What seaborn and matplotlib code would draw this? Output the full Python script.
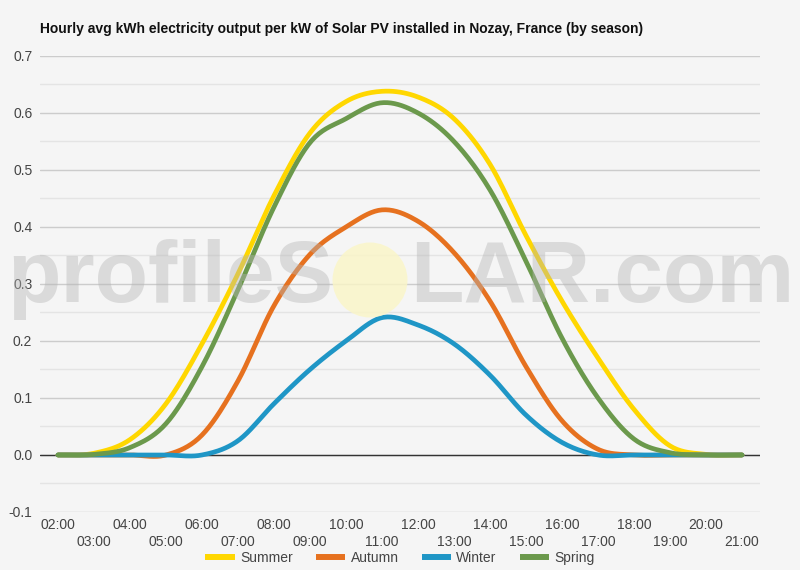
import numpy as np
import pandas as pd
import matplotlib
matplotlib.use("Agg")
import matplotlib.pyplot as plt
from matplotlib.patches import Ellipse
from matplotlib.ticker import MultipleLocator
import seaborn as sns

# hourly average kWh per kW installed
hours = ['02:00', '03:00', '04:00', '05:00', '06:00', '07:00', '08:00', '09:00', '10:00', '11:00',
         '12:00', '13:00', '14:00', '15:00', '16:00', '17:00', '18:00', '19:00', '20:00', '21:00']
summer = [0, 0.003, 0.027, 0.09, 0.195, 0.318, 0.455, 0.565, 0.62, 0.638,
          0.628, 0.59, 0.51, 0.385, 0.27, 0.17, 0.08, 0.016, 0.001, 0]
autumn = [0, 0, 0, 0, 0.035, 0.13, 0.262, 0.352, 0.40, 0.43,
          0.41, 0.355, 0.27, 0.155, 0.06, 0.01, 0, 0, 0, 0]
winter = [0, 0, 0, 0, 0, 0.025, 0.09, 0.15, 0.20, 0.241,
          0.228, 0.195, 0.14, 0.07, 0.022, 0, 0, 0, 0, 0]
spring = [0, 0.001, 0.013, 0.055, 0.155, 0.29, 0.435, 0.548, 0.59, 0.618,
          0.60, 0.55, 0.465, 0.34, 0.205, 0.10, 0.028, 0.004, 0, 0]

seasons = ['Summer', 'Autumn', 'Winter', 'Spring']
colors = ['#FFD700', '#E6711F', '#1F96C6', '#6B994C']


def smooth(vals, n=20):
    # catmull-rom spline through the hourly points (chart uses curved lines)
    p = np.array(vals, dtype=float)
    p = np.concatenate([[p[0]], p, [p[-1]]])
    xs, ys = [], []
    t = np.linspace(0, 1, n, endpoint=False)
    for i in range(1, len(p) - 2):
        p0, p1, p2, p3 = p[i - 1], p[i], p[i + 1], p[i + 2]
        m1 = (p2 - p0) / 2
        m2 = (p3 - p1) / 2
        h00 = 2 * t**3 - 3 * t**2 + 1
        h10 = t**3 - 2 * t**2 + t
        h01 = -2 * t**3 + 3 * t**2
        h11 = t**3 - t**2
        xs.extend(i - 1 + t)
        ys.extend(h00 * p1 + h10 * m1 + h01 * p2 + h11 * m2)
    xs.append(len(vals) - 1)
    ys.append(vals[-1])
    return np.array(xs), np.array(ys)


frames = []
for name, vals in zip(seasons, [summer, autumn, winter, spring]):
    x, y = smooth(vals)
    frames.append(pd.DataFrame({'x': x, 'kwh': y, 'season': name}))
df = pd.concat(frames, ignore_index=True)

sns.set_theme(style="white")
plt.rcParams['font.family'] = ['Liberation Sans', 'DejaVu Sans']

bg = '#f5f5f5'
fig = plt.figure(figsize=(8, 5.7), dpi=100, facecolor=bg)
ax = fig.add_axes([0.05, 0.1018, 0.90, 0.80])
ax.set_facecolor(bg)

sns.lineplot(data=df, x='x', y='kwh', hue='season', palette=dict(zip(seasons, colors)),
             estimator=None, sort=False, linewidth=3.4, ax=ax, zorder=3)

ax.set_xlim(-0.5, len(hours) - 0.5)
ax.set_ylim(-0.1, 0.7)
ax.yaxis.set_major_locator(MultipleLocator(0.1))
ax.yaxis.set_minor_locator(MultipleLocator(0.05))
ax.set_yticks(np.arange(-0.1, 0.71, 0.1))
ax.set_yticklabels([f'{v:.1f}' for v in np.arange(-0.1, 0.71, 0.1)])
ax.grid(which='major', axis='y', color='#cccccc', linewidth=1)
ax.grid(which='minor', axis='y', color='#e4e4e4', linewidth=1)
ax.axhline(0, color='#333333', linewidth=1, zorder=2)

ax.set_xticks(range(len(hours)))
ax.set_xticklabels([h if i % 2 == 0 else '\n' + h for i, h in enumerate(hours)],
                   linespacing=1.35)
ax.tick_params(axis='both', length=0, labelsize=10, colors='#444444')
ax.tick_params(axis='x', pad=4)
ax.tick_params(axis='y', pad=5.5)
for s in ax.spines.values():
    s.set_visible(False)
ax.set_xlabel('')
ax.set_ylabel('')

handles, labels = ax.get_legend_handles_labels()
for h in handles:
    h.set_linewidth(4.3)
    h.set_solid_capstyle('butt')
ax.legend(handles, labels, loc='center', bbox_to_anchor=(0.5, 0.021),
          bbox_transform=fig.transFigure, ncol=4, frameon=False,
          handlelength=2.1, handletextpad=0.4, columnspacing=1.65,
          fontsize=10, labelcolor='#444444')

fig.text(0.05, 0.949, 'Hourly avg kWh electricity output per kW of Solar PV installed in Nozay, France (by season)',
         fontsize=10, fontweight='bold', color='#111111', va='center', ha='left')

# watermark
fig.text(0.416, 0.47, 'profileS', fontsize=63, fontweight='bold', color='#b5b5b5', alpha=0.42,
         ha='right', va='baseline', zorder=10)
fig.text(0.513, 0.47, 'LAR.com', fontsize=63, fontweight='bold', color='#b5b5b5', alpha=0.42,
         ha='left', va='baseline', zorder=10)
fig.add_artist(Ellipse((0.4625, 0.5088), 75 / 800, 75 / 570, color='#fbf6c6',
                       alpha=0.8, zorder=10, linewidth=0))

fig.savefig('out.png', dpi=100, facecolor=bg)
